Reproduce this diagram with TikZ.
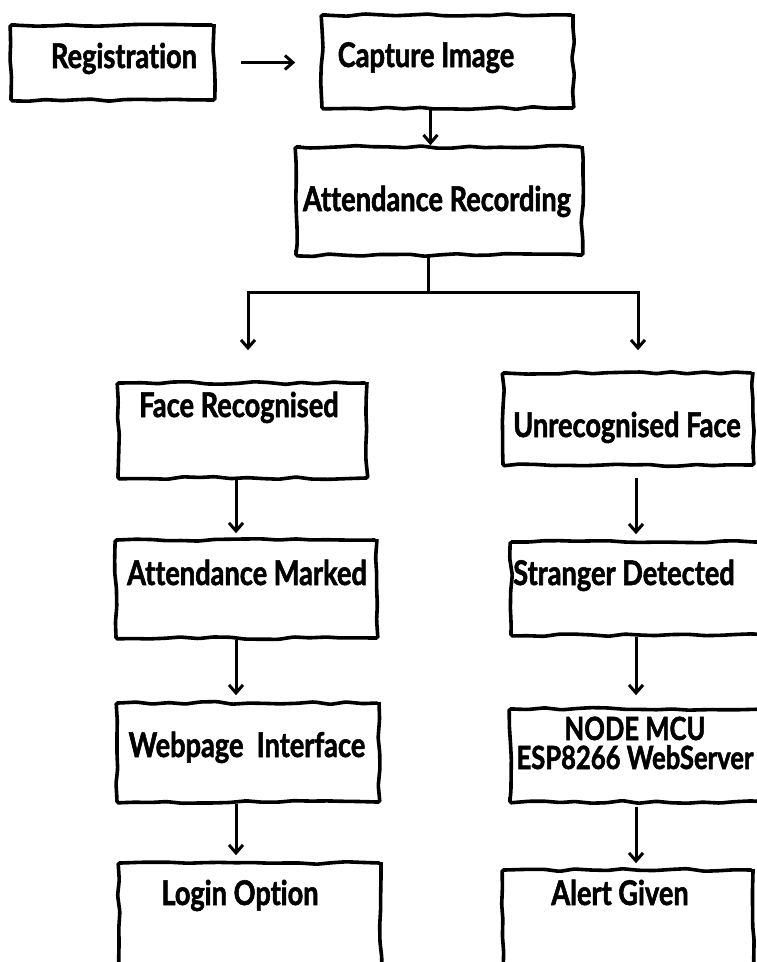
\documentclass[tikz,border=0pt]{standalone}
\usepackage{fontspec}
\newfontfamily\boxfont{Lato}[FakeStretch=0.8,Ligatures=NoCommon,BoldFeatures={FakeBold=1.6}]
\usetikzlibrary{arrows.meta,decorations.pathmorphing,calc}

\begin{document}
\begin{tikzpicture}[x=1pt,y=-1pt,->,>={Straight Barb[length=8pt,width=14pt]},line width=3pt,
    flow box/.style={-,draw,rectangle,inner sep=0pt,line width=3.6pt,decorate,decoration={random steps,segment length=16pt,amplitude=1.4pt},rounded corners=1.5pt},
    box text/.style={font=\boxfont\bfseries\fontsize{34}{30}\selectfont,inner sep=0pt,anchor=base,align=center}]

    \pgfmathsetseed{11}
    \useasboundingbox (0,0) rectangle (757,962);
    \fill[white] (0,0) rectangle (757,962);
    \clip (0,0) rectangle (757,962);

    \node[flow box,minimum width=203pt,minimum height=75pt] (reg) at (112.5,62.5) {};
    \node[flow box,minimum width=251pt,minimum height=93pt] (cap) at (447.5,61.5) {};
    \node[flow box,minimum width=286pt,minimum height=108pt] (rec) at (439,201) {};
    \node[flow box,minimum width=249pt,minimum height=95pt] (face) at (242.5,430.5) {};
    \node[flow box,minimum width=250pt,minimum height=92pt] (unrec) at (628,419) {};
    \node[flow box,minimum width=261pt,minimum height=98pt] (mark) at (246.5,589) {};
    \node[flow box,minimum width=259pt,minimum height=93pt] (stranger) at (640.5,588.5) {};
    \node[flow box,minimum width=262pt,minimum height=99pt] (web) at (248,752.5) {};
    \node[flow box,minimum width=260pt,minimum height=93pt] (mcu) at (640,755.5) {};
    \node[flow box,minimum width=262pt,minimum height=112pt] (login) at (250,919) {};
    \node[flow box,minimum width=250pt,minimum height=105pt] (alert) at (628,922.5) {};

    \node[box text] (regT) at (124,68) {Registration};
    \node[box text] (capT) at (426,67) {Capture Image};
    \node[box text] (recT) at (437,211) {Attendance Recording};
    \node[box text] (faceT) at (239,417) {Face Recognised};
    \node[box text] (unrecT) at (627,437) {Unrecognised Face};
    \node[box text] (markT) at (247,585) {Attendance Marked};
    \node[box text] (strangerT) at (624,585) {Stranger Detected};
    \node[box text] (webT) at (247,757) {Webpage\ \ Interface};
    \node[box text,font=\boxfont\bfseries\fontsize{32}{29}\selectfont] (mcuT) at (635,769) {NODE MCU\\ESP8266 WebServer};
    \node[box text] (loginT) at (240,905) {Login Option};
    \node[box text] (alertT) at (620,905) {Alert Given};

    \coordinate (split) at (428,292);
    \coordinate (lfork) at (248,292);
    \coordinate (rfork) at (638,292);
    \coordinate (lcol) at (236,0);
    \coordinate (rcol) at (636,0);

    \draw[shorten <=25pt,shorten >=25pt] (reg.east) -- (reg.east -| cap.west);
    \draw ([xshift=-17pt]cap.south) -- ([xshift=-17pt]cap.south |- rec.north);
    \draw[-] (rec.south -| split) -- (split);
    \draw[shorten >=31pt] (split) -| (face.north -| lfork);
    \draw[shorten >=21pt] (split) -| (unrec.north -| rfork);

    \foreach \a/\b/\s/\t in {face/mark/0/5,mark/web/0/6,web/login/0/6}{
        \draw[shorten <={\s pt},shorten >={\t pt}] (\a.south -| lcol) -- (\b.north -| lcol);
    }
    \foreach \a/\b/\s/\t in {unrec/stranger/11/6,stranger/mcu/0/12,mcu/alert/3/5}{
        \draw[shorten <={\s pt},shorten >={\t pt}] (\a.south -| rcol) -- (\b.north -| rcol);
    }

\end{tikzpicture}
\end{document}
